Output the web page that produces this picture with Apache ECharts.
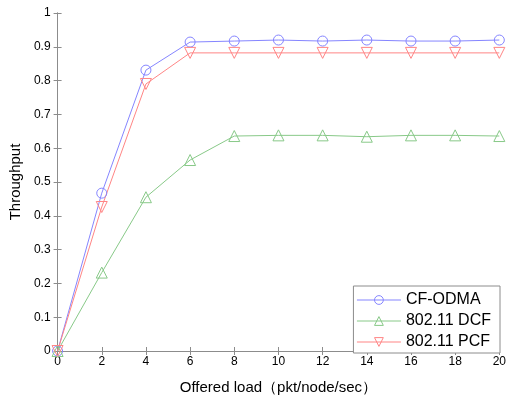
<!DOCTYPE html>
<html><head><meta charset="utf-8">
<script src="https://cdn.jsdelivr.net/npm/echarts@6/dist/echarts.min.js"></script>
<style>html,body{margin:0;padding:0;background:#fff}#c{width:509px;height:400px}</style>
</head><body><div id="c"></div>
<script>
const loads = [0, 2, 4, 6, 8, 10, 12, 14, 16, 18, 20];
const cfOdma = [0, 0.467, 0.831, 0.914, 0.917, 0.920, 0.917, 0.920, 0.917, 0.917, 0.920];
const dcf = [0, 0.232, 0.455, 0.565, 0.636, 0.638, 0.638, 0.634, 0.638, 0.638, 0.636];
const pcf = [0, 0.426, 0.790, 0.882, 0.882, 0.882, 0.882, 0.882, 0.882, 0.882, 0.882];
const names = ['CF-ODMA', '802.11 DCF', '802.11 PCF'];
const xTitle = 'Offered load（pkt/node/sec）';
const yTitle = 'Throughput';

const font = 'Liberation Sans, Arial, sans-serif';
const chart = echarts.init(document.getElementById('c'));
const pair = arr => arr.map((v, i) => [loads[i], v]);
const axisLine = {show: true, lineStyle: {color: '#8c8c8c', width: 1}};
const tick = {show: true, inside: true, length: 4, lineStyle: {color: '#8c8c8c'}};
function mk(name, data, color, symbol, rot, size) {
  return {
    name, type: 'line', data: pair(data), symbol, symbolSize: size, symbolRotate: rot,
    showAllSymbol: true,
    lineStyle: {color, width: 1},
    itemStyle: {color: 'rgba(255,255,255,0)', borderColor: color, borderWidth: 1},
    emphasis: {disabled: true}, animation: false, z: 3
  };
}
chart.setOption({
  backgroundColor: '#fff',
  animation: false,
  grid: {left: 57, right: 9, top: 13, bottom: 41},
  legend: {
    orient: 'vertical', right: 9, top: 286,
    padding: [6, 9, 3, 3], itemGap: 5, itemWidth: 44, itemHeight: 11,
    backgroundColor: '#fff', borderColor: '#8c8c8c', borderWidth: 1, borderRadius: 0,
    itemStyle: {borderWidth: 1, color: 'rgba(255,255,255,0)'},
    lineStyle: {width: 1},
    textStyle: {fontFamily: font, fontSize: 16, color: '#000'},
    data: names
  },
  xAxis: [{
    type: 'value', min: 0, max: 20, interval: 2,
    name: xTitle, nameLocation: 'middle', nameGap: 29,
    nameTextStyle: {fontFamily: font, fontSize: 15, color: '#000'},
    axisLine, axisTick: tick, splitLine: {show: false},
    axisLabel: {fontFamily: font, fontSize: 12, color: '#000', margin: 5}
  }, {
    type: 'value', position: 'top', min: 0, max: 20, interval: 2,
    axisLine, axisTick: tick, axisLabel: {show: false}, splitLine: {show: false}
  }],
  yAxis: [{
    type: 'value', min: 0, max: 1, interval: 0.1,
    name: yTitle, nameLocation: 'middle', nameGap: 30,
    nameTextStyle: {fontFamily: font, fontSize: 15, color: '#000'},
    axisLine, axisTick: tick, splitLine: {show: false},
    axisLabel: {fontFamily: font, fontSize: 12, color: '#000', margin: 7,
      formatter: v => (v === 0 ? '0' : (Math.abs(v - 1) < 1e-9 ? '1' : v.toFixed(1)))}
  }, {
    type: 'value', position: 'right', min: 0, max: 1, interval: 0.1,
    axisLine, axisTick: tick, axisLabel: {show: false}, splitLine: {show: false}
  }],
  series: [
    mk(names[0], cfOdma, '#8585ff', 'circle', 0, 10),
    mk(names[1], dcf, '#88c988', 'triangle', 0, 11),
    mk(names[2], pcf, '#ff8585', 'triangle', 180, 11)
  ]
});
</script></body></html>
